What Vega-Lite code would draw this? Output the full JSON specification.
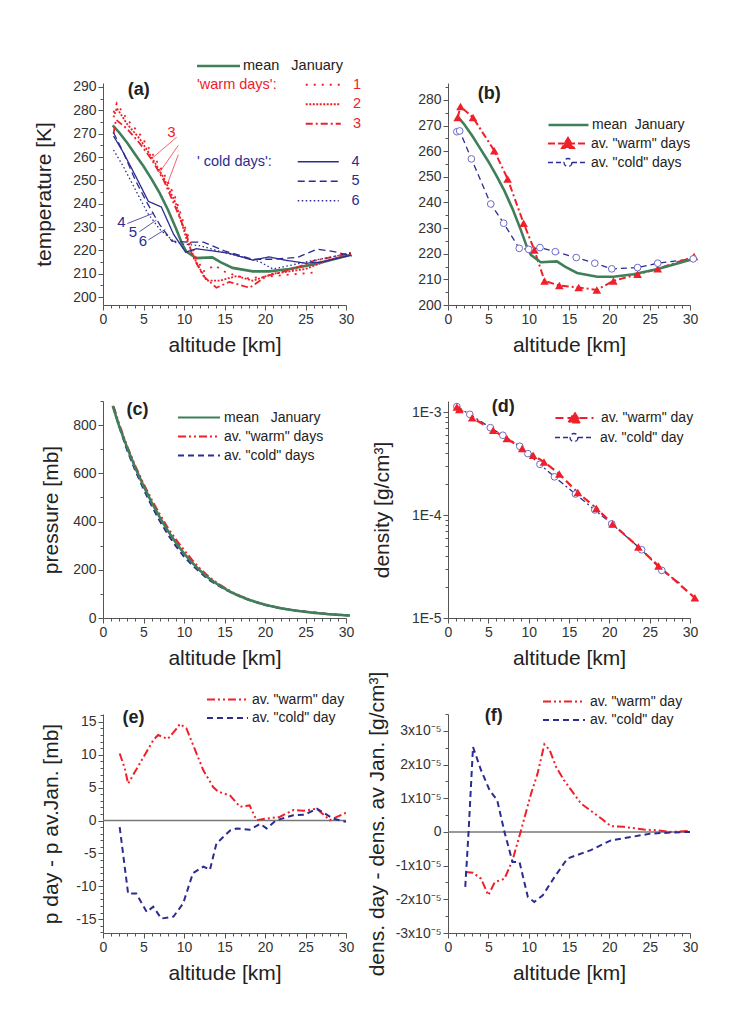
{
  "$schema": "https://vega.github.io/schema/vega-lite/v6.json",
  "background": "white",
  "padding": {"left": 33, "top": 58, "right": 5, "bottom": 5},
  "datasets": {
    "tB": [
      {"s": "mean", "h": 1.2, "v": 273.5}, {"s": "mean", "h": 2, "v": 270.5}, {"s": "mean", "h": 3, "v": 266}, {"s": "mean", "h": 4, "v": 261}, {"s": "mean", "h": 5, "v": 256}, {"s": "mean", "h": 6, "v": 250.5}, {"s": "mean", "h": 7, "v": 244.5}, {"s": "mean", "h": 8, "v": 237.5}, {"s": "mean", "h": 9, "v": 229.5}, {"s": "mean", "h": 9.8, "v": 222.5}, {"s": "mean", "h": 10.3, "v": 219.5}, {"s": "mean", "h": 11.5, "v": 216.7}, {"s": "mean", "h": 13.5, "v": 217}, {"s": "mean", "h": 14.5, "v": 215}, {"s": "mean", "h": 16, "v": 212.5}, {"s": "mean", "h": 18.5, "v": 211}, {"s": "mean", "h": 20.5, "v": 211}, {"s": "mean", "h": 23, "v": 212}, {"s": "mean", "h": 26, "v": 214}, {"s": "mean", "h": 28, "v": 215.8}, {"s": "mean", "h": 30.5, "v": 218},
      {"s": "warm", "h": 1.2, "v": 273.1}, {"s": "warm", "h": 1.55, "v": 277.4}, {"s": "warm", "h": 3.1, "v": 273.1}, {"s": "warm", "h": 5.74, "v": 260.2}, {"s": "warm", "h": 7.39, "v": 249.2}, {"s": "warm", "h": 9.37, "v": 231.9}, {"s": "warm", "h": 10.7, "v": 221.5}, {"s": "warm", "h": 11.97, "v": 209.4}, {"s": "warm", "h": 13.8, "v": 207.6}, {"s": "warm", "h": 16.2, "v": 206.8}, {"s": "warm", "h": 18.45, "v": 205.9}, {"s": "warm", "h": 20.5, "v": 209.4}, {"s": "warm", "h": 23.5, "v": 212.0}, {"s": "warm", "h": 26.0, "v": 214.1}, {"s": "warm", "h": 30.5, "v": 218.9},
      {"s": "cold", "h": 1.1, "v": 267.6}, {"s": "cold", "h": 1.45, "v": 267.9}, {"s": "cold", "h": 2.9, "v": 257.0}, {"s": "cold", "h": 5.3, "v": 239.4}, {"s": "cold", "h": 6.9, "v": 231.9}, {"s": "cold", "h": 8.83, "v": 222.1}, {"s": "cold", "h": 10.0, "v": 221.7}, {"s": "cold", "h": 11.4, "v": 222.4}, {"s": "cold", "h": 13.3, "v": 220.8}, {"s": "cold", "h": 15.9, "v": 218.5}, {"s": "cold", "h": 18.2, "v": 216.3}, {"s": "cold", "h": 20.3, "v": 214.1}, {"s": "cold", "h": 23.5, "v": 214.6}, {"s": "cold", "h": 26.0, "v": 216.3}, {"s": "cold", "h": 30.4, "v": 218.0}
    ],
    "aW": [
      {"s": "1", "h": 1.3, "v": 279}, {"s": "1", "h": 1.7, "v": 283}, {"s": "1", "h": 3, "v": 276}, {"s": "1", "h": 4.5, "v": 270}, {"s": "1", "h": 6, "v": 262}, {"s": "1", "h": 7.5, "v": 253}, {"s": "1", "h": 9, "v": 242}, {"s": "1", "h": 10.3, "v": 228}, {"s": "1", "h": 11.5, "v": 217}, {"s": "1", "h": 12.4, "v": 211}, {"s": "1", "h": 13.8, "v": 213.5}, {"s": "1", "h": 15.2, "v": 210.5}, {"s": "1", "h": 17.7, "v": 208}, {"s": "1", "h": 21, "v": 209}, {"s": "1", "h": 26, "v": 210.5},
      {"s": "2", "h": 1.3, "v": 277}, {"s": "2", "h": 1.7, "v": 281}, {"s": "2", "h": 3, "v": 274}, {"s": "2", "h": 4.5, "v": 268}, {"s": "2", "h": 6, "v": 260}, {"s": "2", "h": 7.5, "v": 251}, {"s": "2", "h": 9, "v": 240}, {"s": "2", "h": 10.3, "v": 225}, {"s": "2", "h": 11.5, "v": 215}, {"s": "2", "h": 12.8, "v": 207}, {"s": "2", "h": 14.4, "v": 207}, {"s": "2", "h": 16.5, "v": 209}, {"s": "2", "h": 18.5, "v": 207}, {"s": "2", "h": 21, "v": 210}, {"s": "2", "h": 25, "v": 212}, {"s": "2", "h": 28, "v": 216}, {"s": "2", "h": 30.7, "v": 218.5},
      {"s": "3", "h": 1.3, "v": 270}, {"s": "3", "h": 1.6, "v": 276}, {"s": "3", "h": 3, "v": 272}, {"s": "3", "h": 4.5, "v": 266}, {"s": "3", "h": 6, "v": 259}, {"s": "3", "h": 7.5, "v": 250}, {"s": "3", "h": 9, "v": 238}, {"s": "3", "h": 10.3, "v": 227}, {"s": "3", "h": 11, "v": 218}, {"s": "3", "h": 12.4, "v": 209}, {"s": "3", "h": 14, "v": 204}, {"s": "3", "h": 15.6, "v": 206.5}, {"s": "3", "h": 18.1, "v": 204}, {"s": "3", "h": 20.2, "v": 209}, {"s": "3", "h": 23.5, "v": 212}, {"s": "3", "h": 26, "v": 215.5}, {"s": "3", "h": 30.7, "v": 219}
    ],
    "aC": [
      {"s": "4", "h": 1.3, "v": 269}, {"s": "4", "h": 2.5, "v": 262}, {"s": "4", "h": 4, "v": 252}, {"s": "4", "h": 5.6, "v": 241}, {"s": "4", "h": 7.2, "v": 238.6}, {"s": "4", "h": 8.7, "v": 227}, {"s": "4", "h": 10.2, "v": 219.2}, {"s": "4", "h": 11.5, "v": 220.7}, {"s": "4", "h": 13.5, "v": 219.8}, {"s": "4", "h": 15.5, "v": 218.8}, {"s": "4", "h": 18.5, "v": 215.8}, {"s": "4", "h": 20.5, "v": 217.2}, {"s": "4", "h": 22.5, "v": 215.8}, {"s": "4", "h": 25, "v": 214.5}, {"s": "4", "h": 27, "v": 215}, {"s": "4", "h": 30.7, "v": 218},
      {"s": "5", "h": 1.3, "v": 270.5}, {"s": "5", "h": 2.5, "v": 262}, {"s": "5", "h": 4, "v": 250}, {"s": "5", "h": 5.5, "v": 240}, {"s": "5", "h": 7, "v": 231}, {"s": "5", "h": 8.5, "v": 224}, {"s": "5", "h": 10.5, "v": 223.5}, {"s": "5", "h": 12.4, "v": 223.5}, {"s": "5", "h": 15, "v": 219.8}, {"s": "5", "h": 18.5, "v": 216.2}, {"s": "5", "h": 21, "v": 216.2}, {"s": "5", "h": 24, "v": 217}, {"s": "5", "h": 26.4, "v": 220.5}, {"s": "5", "h": 28.5, "v": 219.5}, {"s": "5", "h": 30.7, "v": 217.5},
      {"s": "6", "h": 1.3, "v": 263}, {"s": "6", "h": 2.5, "v": 256}, {"s": "6", "h": 4, "v": 246}, {"s": "6", "h": 5.5, "v": 236}, {"s": "6", "h": 7, "v": 229}, {"s": "6", "h": 8.9, "v": 223.4}, {"s": "6", "h": 9.9, "v": 222.7}, {"s": "6", "h": 12, "v": 222}, {"s": "6", "h": 15, "v": 219}, {"s": "6", "h": 17.5, "v": 217}, {"s": "6", "h": 19.4, "v": 215}, {"s": "6", "h": 21, "v": 212}, {"s": "6", "h": 23, "v": 213.5}, {"s": "6", "h": 25, "v": 215}, {"s": "6", "h": 28, "v": 217}, {"s": "6", "h": 30.7, "v": 219}
    ],
    "aArrR": [
      {"h": 9.1, "v": 268.5, "h2": 5.9, "v2": 259}, {"h": 9.3, "v": 265, "h2": 6.9, "v2": 253}, {"h": 9.3, "v": 261, "h2": 7.9, "v2": 248}
    ],
    "aArrB": [
      {"h": 3.0, "v": 231.5, "h2": 6.3, "v2": 236}, {"h": 4.5, "v": 228, "h2": 6.6, "v2": 233}, {"h": 5.6, "v": 224.5, "h2": 7.7, "v2": 229}
    ],
    "aLabR": [{"t": "3", "h": 8.45, "v": 268.5}],
    "aLabB": [{"t": "4", "h": 2.27, "v": 229.9}, {"t": "5", "h": 3.7, "v": 225.6}, {"t": "6", "h": 4.94, "v": 221.7}],
    "pC": [
      {"s": "mean", "h": 1.2, "v": 880}, {"s": "mean", "h": 2, "v": 795}, {"s": "mean", "h": 3, "v": 705}, {"s": "mean", "h": 4, "v": 622}, {"s": "mean", "h": 5, "v": 548}, {"s": "mean", "h": 6, "v": 480}, {"s": "mean", "h": 7, "v": 418}, {"s": "mean", "h": 8, "v": 362}, {"s": "mean", "h": 9, "v": 312}, {"s": "mean", "h": 10, "v": 268}, {"s": "mean", "h": 11, "v": 230}, {"s": "mean", "h": 12, "v": 196}, {"s": "mean", "h": 13, "v": 167}, {"s": "mean", "h": 14, "v": 143}, {"s": "mean", "h": 15, "v": 122}, {"s": "mean", "h": 16, "v": 104}, {"s": "mean", "h": 17, "v": 89}, {"s": "mean", "h": 18, "v": 76}, {"s": "mean", "h": 19, "v": 65}, {"s": "mean", "h": 20, "v": 55}, {"s": "mean", "h": 22, "v": 40}, {"s": "mean", "h": 24, "v": 29.5}, {"s": "mean", "h": 26, "v": 21.5}, {"s": "mean", "h": 28, "v": 15.5}, {"s": "mean", "h": 30.5, "v": 10},
      {"s": "warm", "h": 1.3, "v": 878}, {"s": "warm", "h": 2, "v": 805}, {"s": "warm", "h": 3, "v": 711}, {"s": "warm", "h": 4, "v": 630}, {"s": "warm", "h": 5, "v": 557}, {"s": "warm", "h": 6, "v": 492}, {"s": "warm", "h": 7, "v": 431}, {"s": "warm", "h": 8, "v": 374}, {"s": "warm", "h": 9, "v": 326}, {"s": "warm", "h": 10, "v": 282}, {"s": "warm", "h": 11, "v": 241}, {"s": "warm", "h": 12, "v": 204}, {"s": "warm", "h": 13, "v": 173}, {"s": "warm", "h": 14, "v": 147}, {"s": "warm", "h": 15, "v": 126}, {"s": "warm", "h": 16, "v": 106}, {"s": "warm", "h": 17, "v": 91}, {"s": "warm", "h": 18, "v": 78}, {"s": "warm", "h": 19, "v": 65.5}, {"s": "warm", "h": 20, "v": 55.3}, {"s": "warm", "h": 22, "v": 40.5}, {"s": "warm", "h": 24, "v": 30.5}, {"s": "warm", "h": 26, "v": 23}, {"s": "warm", "h": 28, "v": 15.5}, {"s": "warm", "h": 30.5, "v": 10.5},
      {"s": "cold", "h": 1.3, "v": 872}, {"s": "cold", "h": 2, "v": 794}, {"s": "cold", "h": 3, "v": 694}, {"s": "cold", "h": 4, "v": 611}, {"s": "cold", "h": 5, "v": 535}, {"s": "cold", "h": 6, "v": 466}, {"s": "cold", "h": 7, "v": 403}, {"s": "cold", "h": 8, "v": 347}, {"s": "cold", "h": 9, "v": 298}, {"s": "cold", "h": 10, "v": 255}, {"s": "cold", "h": 11, "v": 220}, {"s": "cold", "h": 12, "v": 189}, {"s": "cold", "h": 13, "v": 160}, {"s": "cold", "h": 14, "v": 139}, {"s": "cold", "h": 15, "v": 120}, {"s": "cold", "h": 16, "v": 103}, {"s": "cold", "h": 17, "v": 88}, {"s": "cold", "h": 18, "v": 74.6}, {"s": "cold", "h": 19, "v": 64.5}, {"s": "cold", "h": 20, "v": 54}, {"s": "cold", "h": 22, "v": 40}, {"s": "cold", "h": 24, "v": 30}, {"s": "cold", "h": 26, "v": 22.5}, {"s": "cold", "h": 28, "v": 15.5}, {"s": "cold", "h": 30.5, "v": 10}
    ],
    "dD": [
      {"s": "warm", "h": 1.1, "v": 0.001118}, {"s": "warm", "h": 1.4, "v": 0.00106}, {"s": "warm", "h": 3.0, "v": 0.00088}, {"s": "warm", "h": 5.6, "v": 0.000665}, {"s": "warm", "h": 7.3, "v": 0.000552}, {"s": "warm", "h": 9.2, "v": 0.000442}, {"s": "warm", "h": 10.55, "v": 0.000381}, {"s": "warm", "h": 11.9, "v": 0.000328}, {"s": "warm", "h": 13.8, "v": 0.00025}, {"s": "warm", "h": 16.1, "v": 0.000165}, {"s": "warm", "h": 18.4, "v": 0.000116}, {"s": "warm", "h": 20.4, "v": 0.000082}, {"s": "warm", "h": 23.6, "v": 0.000049}, {"s": "warm", "h": 26.1, "v": 0.000032}, {"s": "warm", "h": 30.6, "v": 0.0000157},
      {"s": "cold", "h": 1.1, "v": 0.00113}, {"s": "cold", "h": 2.7, "v": 0.00095}, {"s": "cold", "h": 5.25, "v": 0.000705}, {"s": "cold", "h": 6.8, "v": 0.000595}, {"s": "cold", "h": 8.9, "v": 0.000465}, {"s": "cold", "h": 9.9, "v": 0.000395}, {"s": "cold", "h": 11.4, "v": 0.000311}, {"s": "cold", "h": 13.2, "v": 0.000235}, {"s": "cold", "h": 15.8, "v": 0.00016}, {"s": "cold", "h": 18.2, "v": 0.000112}, {"s": "cold", "h": 20.3, "v": 0.000082}, {"s": "cold", "h": 24.0, "v": 0.000046}, {"s": "cold", "h": 26.5, "v": 0.000029}, {"s": "cold", "h": 28.7, "v": 0.0000218}
    ],
    "eE": [
      {"s": "warm", "h": 2.06, "v": 10.2}, {"s": "warm", "h": 2.7, "v": 7.9}, {"s": "warm", "h": 3.1, "v": 5.6}, {"s": "warm", "h": 4.5, "v": 8.6}, {"s": "warm", "h": 6.2, "v": 12.2}, {"s": "warm", "h": 6.8, "v": 13.0}, {"s": "warm", "h": 8.0, "v": 12.4}, {"s": "warm", "h": 9.1, "v": 14.0}, {"s": "warm", "h": 9.5, "v": 14.7}, {"s": "warm", "h": 10.3, "v": 14.0}, {"s": "warm", "h": 12.4, "v": 7.6}, {"s": "warm", "h": 13.6, "v": 5.1}, {"s": "warm", "h": 14.2, "v": 4.4}, {"s": "warm", "h": 15.7, "v": 3.8}, {"s": "warm", "h": 16.9, "v": 2.1}, {"s": "warm", "h": 18.1, "v": 2.3}, {"s": "warm", "h": 18.95, "v": 0.05}, {"s": "warm", "h": 20.2, "v": 0.3}, {"s": "warm", "h": 21.8, "v": 0.55}, {"s": "warm", "h": 23.5, "v": 1.6}, {"s": "warm", "h": 24.7, "v": 1.5}, {"s": "warm", "h": 26.4, "v": 1.8}, {"s": "warm", "h": 28, "v": 0.05}, {"s": "warm", "h": 30, "v": 1.2},
      {"s": "cold", "h": 2.06, "v": -1.0}, {"s": "cold", "h": 3.1, "v": -11.1}, {"s": "cold", "h": 4.1, "v": -11.1}, {"s": "cold", "h": 5.4, "v": -13.9}, {"s": "cold", "h": 6.2, "v": -13.1}, {"s": "cold", "h": 7.2, "v": -14.9}, {"s": "cold", "h": 8.7, "v": -14.6}, {"s": "cold", "h": 9.9, "v": -12.6}, {"s": "cold", "h": 11.1, "v": -8.0}, {"s": "cold", "h": 12.4, "v": -7.0}, {"s": "cold", "h": 13.2, "v": -7.5}, {"s": "cold", "h": 14.0, "v": -3.5}, {"s": "cold", "h": 15.7, "v": -1.5}, {"s": "cold", "h": 16.5, "v": -1.2}, {"s": "cold", "h": 18.1, "v": -1.4}, {"s": "cold", "h": 19.4, "v": -0.5}, {"s": "cold", "h": 20.2, "v": -1.2}, {"s": "cold", "h": 21.4, "v": 0.05}, {"s": "cold", "h": 23.5, "v": 0.8}, {"s": "cold", "h": 24.9, "v": 0.9}, {"s": "cold", "h": 26.4, "v": 1.8}, {"s": "cold", "h": 28.4, "v": 0.3}, {"s": "cold", "h": 30, "v": -0.2}
    ],
    "fF": [
      {"s": "warm", "h": 2.14, "v": -0.0000119}, {"s": "warm", "h": 3.1, "v": -0.0000121}, {"s": "warm", "h": 4.1, "v": -0.0000139}, {"s": "warm", "h": 5.0, "v": -0.0000188}, {"s": "warm", "h": 5.8, "v": -0.0000149}, {"s": "warm", "h": 7.0, "v": -0.0000139}, {"s": "warm", "h": 8.0, "v": -0.0000084}, {"s": "warm", "h": 9.0, "v": 0}, {"s": "warm", "h": 10.3, "v": 0.0000114}, {"s": "warm", "h": 11.1, "v": 0.0000173}, {"s": "warm", "h": 11.95, "v": 0.000026}, {"s": "warm", "h": 12.6, "v": 0.0000243}, {"s": "warm", "h": 13.4, "v": 0.0000193}, {"s": "warm", "h": 14.4, "v": 0.0000153}, {"s": "warm", "h": 16.5, "v": 0.0000084}, {"s": "warm", "h": 19.0, "v": 0.000004}, {"s": "warm", "h": 20.2, "v": 0.0000017}, {"s": "warm", "h": 21.8, "v": 0.0000015}, {"s": "warm", "h": 24.3, "v": 0.0000007}, {"s": "warm", "h": 25.96, "v": 0.0000005}, {"s": "warm", "h": 27.6, "v": 0}, {"s": "warm", "h": 30, "v": 0.0000003},
      {"s": "cold", "h": 2.14, "v": -0.0000163}, {"s": "cold", "h": 2.55, "v": 0}, {"s": "cold", "h": 3.1, "v": 0.0000252}, {"s": "cold", "h": 4.1, "v": 0.0000183}, {"s": "cold", "h": 5.15, "v": 0.0000124}, {"s": "cold", "h": 6.1, "v": 0.0000094}, {"s": "cold", "h": 7.0, "v": 0}, {"s": "cold", "h": 8.0, "v": -0.0000089}, {"s": "cold", "h": 8.86, "v": -0.0000089}, {"s": "cold", "h": 9.9, "v": -0.0000193}, {"s": "cold", "h": 10.7, "v": -0.0000208}, {"s": "cold", "h": 11.75, "v": -0.0000188}, {"s": "cold", "h": 13.2, "v": -0.0000134}, {"s": "cold", "h": 14.8, "v": -0.0000079}, {"s": "cold", "h": 17.7, "v": -0.0000054}, {"s": "cold", "h": 20.2, "v": -0.0000025}, {"s": "cold", "h": 22.7, "v": -0.0000015}, {"s": "cold", "h": 25.1, "v": -0.0000005}, {"s": "cold", "h": 27.6, "v": -0.0000002}, {"s": "cold", "h": 30, "v": 0}
    ]
  },
  "concat": [
    {
      "width": 243, "height": 222,
      "layer": [
        {
          "layer": [
            {
              "data": {"name": "tB"},
              "transform": [{"filter": "datum.s === 'mean'"}],
              "mark": {"type": "line", "strokeWidth": 2.6},
              "encoding": {
                "x": {"field": "h", "type": "quantitative", "scale": {"domain": [0, 30], "nice": false, "zero": false},
                  "axis": {"title": "altitude [km]", "orient": "bottom", "values": [0,5,10,15,20,25,30], "format": "d", "tickCount": 100, "tickSize": 5, "titlePadding": 8}},
                "y": {"field": "v", "type": "quantitative", "scale": {"domain": [196.6, 291.7], "nice": false, "zero": false},
                  "axis": {"title": "temperature [K]", "orient": "left", "values": [200,210,220,230,240,250,260,270,280,290], "format": "d", "tickCount": 100, "tickSize": 5, "titlePadding": 18}},
                "color": {"field": "s", "type": "nominal", "scale": {"domain": ["mean"], "range": ["#3f7f5a"]},
                  "legend": {"title": null, "orient": "none", "legendX": 108, "legendY": -24.5, "symbolType": "M-3.58,0L3.58,0", "symbolSize": 144, "symbolStrokeWidth": 2.6, "labelOffset": 17, "labelFontSize": 14.5, "labelExpr": "'mean\u00a0\u00a0\u00a0January'"}}
              }
            },
            {
              "data": {"name": "aW"},
              "mark": {"type": "line", "color": "#f0202a", "strokeWidth": 1.8},
              "encoding": {
                "x": {"field": "h", "type": "quantitative"},
                "y": {"field": "v", "type": "quantitative"},
                "strokeDash": {"field": "s", "type": "nominal", "scale": {"domain": ["1", "2", "3"], "range": [[2, 6], [2, 1.5], [7, 3, 2, 3]]},
                  "legend": {"title": "'warm days':", "titleOrient": "left", "titleAnchor": "start", "titleColor": "#f0202a", "titleFontSize": 14.5, "titleFontWeight": "normal", "titlePadding": 39, "labelColor": "#f0202a", "labelFontSize": 14.5, "labelOffset": 22.5, "orient": "none", "legendX": 94, "legendY": -5.5, "symbolType": "M-2.92,0L2.92,0", "symbolSize": 144, "symbolStrokeWidth": 1.8, "symbolStrokeColor": "#f0202a", "rowPadding": 4.5}}
              }
            },
            {
              "data": {"name": "aC"},
              "mark": {"type": "line", "color": "#2c2c92", "strokeWidth": 1.3},
              "encoding": {
                "x": {"field": "h", "type": "quantitative"},
                "y": {"field": "v", "type": "quantitative"},
                "strokeDash": {"field": "s", "type": "nominal", "scale": {"domain": ["4", "5", "6"], "range": [[1, 0], [7, 4], [1.5, 2.5]]},
                  "legend": {"title": "' cold days':", "titleOrient": "left", "titleAnchor": "start", "titleColor": "#2c2c92", "titleFontSize": 14.5, "titleFontWeight": "normal", "titlePadding": 39, "labelColor": "#2c2c92", "labelFontSize": 14.5, "labelOffset": 26, "orient": "none", "legendX": 94, "legendY": 71.5, "symbolType": "M-3.42,0L3.42,0", "symbolSize": 144, "symbolStrokeWidth": 1.3, "symbolStrokeColor": "#2c2c92", "rowPadding": 4.5}}
              }
            },
            {
              "data": {"name": "aArrR"},
              "mark": {"type": "rule", "color": "#f0202a", "strokeWidth": 0.7},
              "encoding": {
                "x": {"field": "h", "type": "quantitative"}, "y": {"field": "v", "type": "quantitative"},
                "x2": {"field": "h2"}, "y2": {"field": "v2"}
              }
            },
            {
              "data": {"name": "aArrB"},
              "mark": {"type": "rule", "color": "#2c2c92", "strokeWidth": 0.8},
              "encoding": {
                "x": {"field": "h", "type": "quantitative"}, "y": {"field": "v", "type": "quantitative"},
                "x2": {"field": "h2"}, "y2": {"field": "v2"}
              }
            },
            {
              "data": {"name": "aLabR"},
              "mark": {"type": "text", "color": "#f0202a", "fontSize": 15, "baseline": "alphabetic"},
              "encoding": {"x": {"field": "h", "type": "quantitative"}, "y": {"field": "v", "type": "quantitative"}, "text": {"field": "t"}}
            },
            {
              "data": {"name": "aLabB"},
              "mark": {"type": "text", "color": "#2c2c92", "fontSize": 15, "baseline": "alphabetic"},
              "encoding": {"x": {"field": "h", "type": "quantitative"}, "y": {"field": "v", "type": "quantitative"}, "text": {"field": "t"}}
            },
            {
              "data": {"values": [{}]},
              "mark": {"type": "text", "text": "(a)", "fontWeight": "bold", "fontSize": 18, "baseline": "alphabetic", "color": "#222"},
              "encoding": {"x": {"datum": 4.4, "type": "quantitative"}, "y": {"datum": 286.5, "type": "quantitative"}}
            }
          ],
          "resolve": {"scale": {"strokeDash": "independent"}, "legend": {"strokeDash": "independent"}}
        },
        {
          "data": {"values": [{}]},
          "mark": {"type": "point", "opacity": 0},
          "encoding": {
            "x": {"datum": 0, "type": "quantitative", "scale": {"domain": [0, 30], "nice": false, "zero": false},
              "axis": {"orient": "bottom", "title": null, "labels": false, "domain": false, "tickCount": 100, "tickSize": 3, "values": [1,2,3,4,6,7,8,9,11,12,13,14,16,17,18,19,21,22,23,24,26,27,28,29]}},
            "y": {"datum": 250, "type": "quantitative", "scale": {"domain": [196.6, 291.7], "nice": false, "zero": false},
              "axis": {"orient": "left", "title": null, "labels": false, "domain": false, "tickCount": 100, "tickSize": 3, "values": [205,215,225,235,245,255,265,275,285]}}
          }
        }
      ],
      "resolve": {"scale": {"x": "independent", "y": "independent"}, "axis": {"x": "independent", "y": "independent"}}
    },
    {
      "width": 242, "height": 222,
      "layer": [
        {
          "layer": [
            {
              "data": {"name": "tB"},
              "transform": [{"filter": "datum.s === 'cold'"}],
              "mark": {"type": "line", "strokeWidth": 1.3, "strokeDash": [6, 4]},
              "encoding": {
                "x": {"field": "h", "type": "quantitative", "scale": {"domain": [0, 30], "nice": false, "zero": false},
                  "axis": {"title": "altitude [km]", "orient": "bottom", "values": [0,5,10,15,20,25,30], "format": "d", "tickCount": 100, "tickSize": 5, "titlePadding": 8}},
                "y": {"field": "v", "type": "quantitative", "scale": {"domain": [200, 286.6], "nice": false, "zero": false},
                  "axis": {"title": null, "orient": "left", "values": [200,210,220,230,240,250,260,270,280], "format": "d", "tickCount": 100, "tickSize": 5}},
                "color": {"field": "s", "type": "nominal", "scale": {"domain": ["cold"], "range": ["#2c2c92"]},
                  "legend": {"title": null, "orient": "none", "legendX": 113, "legendY": 72.5, "symbolType": "M-3.33,0L-0.67,0M0.67,0L3.33,0M0.67,0A0.67,0.67,0,1,1,-0.67,0A0.67,0.67,0,1,1,0.67,0", "symbolFillColor": "white", "symbolStrokeColor": "#2c2c92", "symbolDash": [5, 3], "symbolSize": 144, "symbolStrokeWidth": 1.3, "labelOffset": 16, "labelFontSize": 14, "labelExpr": "'av. \"cold\" days'"}}
              }
            },
            {
              "data": {"name": "tB"},
              "transform": [{"filter": "datum.s === 'warm'"}],
              "mark": {"type": "line", "strokeWidth": 2, "strokeDash": [7, 3, 2, 3]},
              "encoding": {
                "x": {"field": "h", "type": "quantitative"},
                "y": {"field": "v", "type": "quantitative"},
                "color": {"field": "s", "type": "nominal", "scale": {"domain": ["warm"], "range": ["#f0202a"]},
                  "legend": {"title": null, "orient": "none", "legendX": 113, "legendY": 53.5, "symbolType": "M-3.33,0L3.33,0M0,-0.92L1,0.75L-1,0.75Z", "symbolFillColor": "#f0202a", "symbolStrokeColor": "#f0202a", "symbolDash": [7, 3], "symbolSize": 144, "symbolStrokeWidth": 2, "labelOffset": 16, "labelFontSize": 14, "labelExpr": "'av. \"warm\" days'"}}
              }
            },
            {
              "data": {"name": "tB"},
              "transform": [{"filter": "datum.s === 'mean'"}],
              "mark": {"type": "line", "strokeWidth": 2.6},
              "encoding": {
                "x": {"field": "h", "type": "quantitative"},
                "y": {"field": "v", "type": "quantitative"},
                "color": {"field": "s", "type": "nominal", "scale": {"domain": ["mean"], "range": ["#3f7f5a"]},
                  "legend": {"title": null, "orient": "none", "legendX": 113, "legendY": 34.5, "symbolType": "M-3.33,0L3.33,0", "symbolSize": 144, "symbolStrokeWidth": 2.6, "labelOffset": 16, "labelFontSize": 14, "labelExpr": "'mean\u00a0\u00a0January'"}}
              }
            },
            {
              "data": {"name": "tB"},
              "transform": [{"filter": "datum.s === 'warm'"}],
              "mark": {"type": "point", "shape": "triangle-up", "filled": true, "color": "#f0202a", "size": 75, "opacity": 1},
              "encoding": {"x": {"field": "h", "type": "quantitative"}, "y": {"field": "v", "type": "quantitative"}}
            },
            {
              "data": {"name": "tB"},
              "transform": [{"filter": "datum.s === 'cold'"}],
              "mark": {"type": "point", "shape": "circle", "filled": true, "fill": "white", "stroke": "#6d6dc4", "strokeWidth": 1, "size": 45, "opacity": 1},
              "encoding": {"x": {"field": "h", "type": "quantitative"}, "y": {"field": "v", "type": "quantitative"}}
            },
            {
              "data": {"values": [{}]},
              "mark": {"type": "text", "text": "(b)", "fontWeight": "bold", "fontSize": 18, "baseline": "alphabetic", "color": "#222"},
              "encoding": {"x": {"datum": 5.1, "type": "quantitative"}, "y": {"datum": 280.4, "type": "quantitative"}}
            }
          ],
          "resolve": {"scale": {"color": "independent"}, "legend": {"color": "independent"}}
        },
        {
          "data": {"values": [{}]},
          "mark": {"type": "point", "opacity": 0},
          "encoding": {
            "x": {"datum": 0, "type": "quantitative", "scale": {"domain": [0, 30], "nice": false, "zero": false},
              "axis": {"orient": "bottom", "title": null, "labels": false, "domain": false, "tickCount": 100, "tickSize": 3, "values": [1,2,3,4,6,7,8,9,11,12,13,14,16,17,18,19,21,22,23,24,26,27,28,29]}},
            "y": {"datum": 250, "type": "quantitative", "scale": {"domain": [200, 286.6], "nice": false, "zero": false},
              "axis": {"orient": "left", "title": null, "labels": false, "domain": false, "tickCount": 100, "tickSize": 3, "values": [205,215,225,235,245,255,265,275,285]}}
          }
        }
      ],
      "resolve": {"scale": {"x": "independent", "y": "independent"}, "axis": {"x": "independent", "y": "independent"}}
    },
    {
      "width": 243, "height": 217,
      "layer": [
        {
          "layer": [
            {
              "data": {"name": "pC"},
              "transform": [{"filter": "datum.s !== 'mean'"}],
              "mark": {"type": "line", "strokeWidth": 2},
              "encoding": {
                "x": {"field": "h", "type": "quantitative", "scale": {"domain": [0, 30], "nice": false, "zero": false},
                  "axis": {"title": "altitude [km]", "orient": "bottom", "values": [0,5,10,15,20,25,30], "format": "d", "tickCount": 100, "tickSize": 5, "titlePadding": 8}},
                "y": {"field": "v", "type": "quantitative", "scale": {"domain": [0, 900], "nice": false, "zero": false},
                  "axis": {"title": "pressure [mb]", "orient": "left", "values": [0,200,400,600,800], "format": "d", "tickCount": 100, "tickSize": 5, "titlePadding": 11}},
                "color": {"field": "s", "type": "nominal", "scale": {"domain": ["mean", "warm", "cold"], "range": ["#3f7f5a", "#f0202a", "#2c2c92"]},
                  "legend": {"title": null, "orient": "none", "legendX": 89, "legendY": 9.5, "symbolType": "M-3.5,0L3.5,0", "symbolSize": 144, "symbolStrokeWidth": 2, "labelOffset": 18, "rowPadding": 5, "labelFontSize": 14,
                    "labelExpr": "datum.value === 'mean' ? 'mean\u00a0\u00a0\u00a0January' : datum.value === 'warm' ? 'av. \"warm\" days' : 'av. \"cold\" days'"}},
                "strokeDash": {"field": "s", "type": "nominal", "scale": {"domain": ["mean", "warm", "cold"], "range": [[1, 0], [8, 3, 2, 3, 2, 3], [6, 4]]},
                  "legend": {"title": null, "orient": "none", "legendX": 89, "legendY": 9.5, "symbolType": "M-3.5,0L3.5,0", "symbolSize": 144, "symbolStrokeWidth": 2, "labelOffset": 18, "rowPadding": 5, "labelFontSize": 14,
                    "labelExpr": "datum.value === 'mean' ? 'mean\u00a0\u00a0\u00a0January' : datum.value === 'warm' ? 'av. \"warm\" days' : 'av. \"cold\" days'"}}
              }
            },
            {
              "data": {"name": "pC"},
              "transform": [{"filter": "datum.s === 'mean'"}],
              "mark": {"type": "line", "strokeWidth": 2.6},
              "encoding": {
                "x": {"field": "h", "type": "quantitative"},
                "y": {"field": "v", "type": "quantitative"},
                "color": {"field": "s", "type": "nominal"},
                "strokeDash": {"field": "s", "type": "nominal"}
              }
            },
            {
              "data": {"values": [{}]},
              "mark": {"type": "text", "text": "(c)", "fontWeight": "bold", "fontSize": 18, "baseline": "alphabetic", "color": "#222"},
              "encoding": {"x": {"datum": 4.26, "type": "quantitative"}, "y": {"datum": 841, "type": "quantitative"}}
            }
          ]
        },
        {
          "data": {"values": [{}]},
          "mark": {"type": "point", "opacity": 0},
          "encoding": {
            "x": {"datum": 0, "type": "quantitative", "scale": {"domain": [0, 30], "nice": false, "zero": false},
              "axis": {"orient": "bottom", "title": null, "labels": false, "domain": false, "tickCount": 100, "tickSize": 3, "values": [1,2,3,4,6,7,8,9,11,12,13,14,16,17,18,19,21,22,23,24,26,27,28,29]}},
            "y": {"datum": 300, "type": "quantitative", "scale": {"domain": [0, 900], "nice": false, "zero": false},
              "axis": {"orient": "left", "title": null, "labels": false, "domain": false, "tickCount": 100, "tickSize": 3, "values": [100,300,500,700,900]}}
          }
        }
      ],
      "resolve": {"scale": {"x": "independent", "y": "independent"}, "axis": {"x": "independent", "y": "independent"}}
    },
    {
      "width": 242, "height": 217,
      "layer": [
        {
          "layer": [
            {
              "data": {"name": "dD"},
              "transform": [{"filter": "datum.s === 'cold'"}],
              "mark": {"type": "line", "strokeWidth": 1.3, "strokeDash": [6, 3, 2, 3]},
              "encoding": {
                "x": {"field": "h", "type": "quantitative", "scale": {"domain": [0, 30], "nice": false, "zero": false},
                  "axis": {"title": "altitude [km]", "orient": "bottom", "values": [0,5,10,15,20,25,30], "format": "d", "tickCount": 100, "tickSize": 5, "titlePadding": 8}},
                "y": {"field": "v", "type": "quantitative", "scale": {"type": "log", "domain": [0.00001, 0.00128], "nice": false},
                  "axis": {"title": "density [g/cm³]", "orient": "left", "values": [0.00001, 0.0001, 0.001], "tickCount": 100, "labelExpr": "datum.value >= 0.0009 ? '1E-3' : datum.value >= 0.00009 ? '1E-4' : '1E-5'", "tickSize": 5, "titlePadding": 19}},
                "color": {"field": "s", "type": "nominal", "scale": {"domain": ["cold"], "range": ["#2c2c92"]},
                  "legend": {"title": null, "orient": "none", "legendX": 119, "legendY": 29.5, "symbolType": "M-3.17,0L-0.67,0M0.67,0L3.17,0M0.67,0A0.67,0.67,0,1,1,-0.67,0A0.67,0.67,0,1,1,0.67,0", "symbolFillColor": "white", "symbolStrokeColor": "#2c2c92", "symbolDash": [5, 3], "symbolSize": 144, "symbolStrokeWidth": 1.3, "labelOffset": 19, "labelFontSize": 14, "labelExpr": "'av. \"cold\" day'"}}
              }
            },
            {
              "data": {"name": "dD"},
              "transform": [{"filter": "datum.s === 'warm'"}],
              "mark": {"type": "line", "strokeWidth": 2.2, "strokeDash": [8, 4]},
              "encoding": {
                "x": {"field": "h", "type": "quantitative"},
                "y": {"field": "v", "type": "quantitative"},
                "color": {"field": "s", "type": "nominal", "scale": {"domain": ["warm"], "range": ["#f0202a"]},
                  "legend": {"title": null, "orient": "none", "legendX": 119, "legendY": 9.5, "symbolType": "M-3.17,0L3.17,0M0,-0.92L1,0.75L-1,0.75Z", "symbolFillColor": "#f0202a", "symbolStrokeColor": "#f0202a", "symbolDash": [8, 4], "symbolSize": 144, "symbolStrokeWidth": 2.2, "labelOffset": 19, "labelFontSize": 14, "labelExpr": "'av. \"warm\" day'"}}
              }
            },
            {
              "data": {"name": "dD"},
              "transform": [{"filter": "datum.s === 'cold' && datum.h < 28"}],
              "mark": {"type": "point", "shape": "circle", "filled": true, "fill": "white", "stroke": "#6d6dc4", "strokeWidth": 1, "size": 45, "opacity": 1},
              "encoding": {"x": {"field": "h", "type": "quantitative"}, "y": {"field": "v", "type": "quantitative"}}
            },
            {
              "data": {"name": "dD"},
              "transform": [{"filter": "datum.s === 'warm'"}],
              "mark": {"type": "point", "shape": "triangle-up", "filled": true, "color": "#f0202a", "size": 75, "opacity": 1},
              "encoding": {"x": {"field": "h", "type": "quantitative"}, "y": {"field": "v", "type": "quantitative"}}
            },
            {
              "data": {"values": [{}]},
              "mark": {"type": "text", "text": "(d)", "fontWeight": "bold", "fontSize": 18, "baseline": "alphabetic", "color": "#222"},
              "encoding": {"x": {"datum": 6.84, "type": "quantitative"}, "y": {"datum": 0.001, "type": "quantitative"}}
            }
          ],
          "resolve": {"scale": {"color": "independent"}, "legend": {"color": "independent"}}
        },
        {
          "data": {"values": [{}]},
          "mark": {"type": "point", "opacity": 0},
          "encoding": {
            "x": {"datum": 0, "type": "quantitative", "scale": {"domain": [0, 30], "nice": false, "zero": false},
              "axis": {"orient": "bottom", "title": null, "labels": false, "domain": false, "tickCount": 100, "tickSize": 3, "values": [1,2,3,4,6,7,8,9,11,12,13,14,16,17,18,19,21,22,23,24,26,27,28,29]}},
            "y": {"datum": 0.0001, "type": "quantitative", "scale": {"type": "log", "domain": [0.00001, 0.00128], "nice": false},
              "axis": {"orient": "left", "title": null, "labels": false, "domain": false, "tickCount": 100, "tickSize": 3, "values": [0.00002,0.00003,0.00004,0.00005,0.00006,0.00007,0.00008,0.00009,0.0002,0.0003,0.0004,0.0005,0.0006,0.0007,0.0008,0.0009]}}
          }
        }
      ],
      "resolve": {"scale": {"x": "independent", "y": "independent"}, "axis": {"x": "independent", "y": "independent"}}
    },
    {
      "width": 243, "height": 219,
      "layer": [
        {
          "layer": [
            {
              "data": {"values": [{}]},
              "mark": {"type": "rule", "color": "#777", "strokeWidth": 1.5},
              "encoding": {"y": {"datum": 0, "type": "quantitative"}}
            },
            {
              "data": {"name": "eE"},
              "mark": {"type": "line", "strokeWidth": 2},
              "encoding": {
                "x": {"field": "h", "type": "quantitative", "scale": {"domain": [0, 30], "nice": false, "zero": false},
                  "axis": {"title": "altitude [km]", "orient": "bottom", "values": [0,5,10,15,20,25,30], "format": "d", "tickCount": 100, "tickSize": 5, "titlePadding": 8}},
                "y": {"field": "v", "type": "quantitative", "scale": {"domain": [-17.1, 16.2], "nice": false, "zero": false},
                  "axis": {"title": "p day - p av.Jan. [mb]", "orient": "left", "values": [-15,-10,-5,0,5,10,15], "tickCount": 100, "labelExpr": "datum.value < 0 ? '-' + abs(datum.value) : '' + datum.value", "tickSize": 5, "titlePadding": 14}},
                "color": {"field": "s", "type": "nominal", "scale": {"domain": ["warm", "cold"], "range": ["#f0202a", "#2c2c92"]},
                  "legend": {"title": null, "orient": "none", "legendX": 117.5, "legendY": -21.5, "symbolType": "M-3.42,0L3.42,0", "symbolSize": 144, "symbolStrokeWidth": 2, "labelOffset": 17.5, "rowPadding": 4.5, "labelFontSize": 14,
                    "labelExpr": "datum.value === 'warm' ? 'av. \"warm\" day' : 'av. \"cold\" day'"}},
                "strokeDash": {"field": "s", "type": "nominal", "scale": {"domain": ["warm", "cold"], "range": [[8, 3, 2, 3, 2, 3], [6, 4]]},
                  "legend": {"title": null, "orient": "none", "legendX": 117.5, "legendY": -21.5, "symbolType": "M-3.42,0L3.42,0", "symbolSize": 144, "symbolStrokeWidth": 2, "labelOffset": 17.5, "rowPadding": 4.5, "labelFontSize": 14,
                    "labelExpr": "datum.value === 'warm' ? 'av. \"warm\" day' : 'av. \"cold\" day'"}}
              }
            },
            {
              "data": {"values": [{}]},
              "mark": {"type": "text", "text": "(e)", "fontWeight": "bold", "fontSize": 18, "baseline": "alphabetic", "color": "#222"},
              "encoding": {"x": {"datum": 3.77, "type": "quantitative"}, "y": {"datum": 14.9, "type": "quantitative"}}
            }
          ]
        },
        {
          "data": {"values": [{}]},
          "mark": {"type": "point", "opacity": 0},
          "encoding": {
            "x": {"datum": 0, "type": "quantitative", "scale": {"domain": [0, 30], "nice": false, "zero": false},
              "axis": {"orient": "bottom", "title": null, "labels": false, "domain": false, "tickCount": 100, "tickSize": 3, "values": [1,2,3,4,6,7,8,9,11,12,13,14,16,17,18,19,21,22,23,24,26,27,28,29]}},
            "y": {"datum": 0, "type": "quantitative", "scale": {"domain": [-17.1, 16.2], "nice": false, "zero": false},
              "axis": {"orient": "left", "title": null, "labels": false, "domain": false, "tickCount": 100, "tickSize": 3, "values": [-17,-16,-14,-13,-12,-11,-9,-8,-7,-6,-4,-3,-2,-1,1,2,3,4,6,7,8,9,11,12,13,14,16]}}
          }
        }
      ],
      "resolve": {"scale": {"x": "independent", "y": "independent"}, "axis": {"x": "independent", "y": "independent"}}
    },
    {
      "width": 242, "height": 219,
      "layer": [
        {
          "layer": [
            {
              "data": {"values": [{}]},
              "mark": {"type": "rule", "color": "#777", "strokeWidth": 1.5},
              "encoding": {"y": {"datum": 0, "type": "quantitative"}}
            },
            {
              "data": {"name": "fF"},
              "mark": {"type": "line", "strokeWidth": 2},
              "encoding": {
                "x": {"field": "h", "type": "quantitative", "scale": {"domain": [0, 30], "nice": false, "zero": false},
                  "axis": {"title": "altitude [km]", "orient": "bottom", "values": [0,5,10,15,20,25,30], "format": "d", "tickCount": 100, "tickSize": 5, "titlePadding": 8}},
                "y": {"field": "v", "type": "quantitative", "scale": {"domain": [-0.00003, 0.000035], "nice": false, "zero": false},
                  "axis": {"title": "dens. day - dens. av Jan. [g/cm³]", "orient": "left", "values": [-0.00003,-0.00002,-0.00001,0,0.00001,0.00002,0.00003], "tickCount": 100, "labelExpr": "datum.value === 0 ? '0' : (datum.value < 0 ? '-' : '') + round(abs(datum.value)*100000) + 'x10⁻⁵'", "tickSize": 5, "titlePadding": 8}},
                "color": {"field": "s", "type": "nominal", "scale": {"domain": ["warm", "cold"], "range": ["#f0202a", "#2c2c92"]},
                  "legend": {"title": null, "orient": "none", "legendX": 109, "legendY": -19.5, "symbolType": "M-3.5,0L3.5,0", "symbolSize": 144, "symbolStrokeWidth": 2, "labelOffset": 19, "rowPadding": 4.5, "labelFontSize": 14,
                    "labelExpr": "datum.value === 'warm' ? 'av. \"warm\" day' : 'av. \"cold\" day'"}},
                "strokeDash": {"field": "s", "type": "nominal", "scale": {"domain": ["warm", "cold"], "range": [[8, 3, 2, 3, 2, 3], [6, 4]]},
                  "legend": {"title": null, "orient": "none", "legendX": 109, "legendY": -19.5, "symbolType": "M-3.5,0L3.5,0", "symbolSize": 144, "symbolStrokeWidth": 2, "labelOffset": 19, "rowPadding": 4.5, "labelFontSize": 14,
                    "labelExpr": "datum.value === 'warm' ? 'av. \"warm\" day' : 'av. \"cold\" day'"}}
              }
            },
            {
              "data": {"values": [{}]},
              "mark": {"type": "text", "text": "(f)", "fontWeight": "bold", "fontSize": 18, "baseline": "alphabetic", "color": "#222"},
              "encoding": {"x": {"datum": 5.66, "type": "quantitative"}, "y": {"datum": 0.0000328, "type": "quantitative"}}
            }
          ]
        },
        {
          "data": {"values": [{}]},
          "mark": {"type": "point", "opacity": 0},
          "encoding": {
            "x": {"datum": 0, "type": "quantitative", "scale": {"domain": [0, 30], "nice": false, "zero": false},
              "axis": {"orient": "bottom", "title": null, "labels": false, "domain": false, "tickCount": 100, "tickSize": 3, "values": [1,2,3,4,6,7,8,9,11,12,13,14,16,17,18,19,21,22,23,24,26,27,28,29]}},
            "y": {"datum": 0, "type": "quantitative", "scale": {"domain": [-0.00003, 0.000035], "nice": false, "zero": false},
              "axis": {"orient": "left", "title": null, "labels": false, "domain": false, "tickCount": 100, "tickSize": 3, "values": [-0.000025,-0.000015,-0.000005,0.000005,0.000015,0.000025,0.000035]}}
          }
        }
      ],
      "resolve": {"scale": {"x": "independent", "y": "independent"}, "axis": {"x": "independent", "y": "independent"}}
    }
  ],
  "columns": 2,
  "spacing": {"row": 96, "column": 102},
  "bounds": "flush",
  "resolve": {"scale": {"x": "independent", "y": "independent", "color": "independent", "strokeDash": "independent"}, "legend": {"color": "independent", "strokeDash": "independent"}},
  "config": {
    "view": {"stroke": null},
    "font": "Liberation Sans",
    "axis": {"grid": false, "labelFont": "Liberation Sans", "titleFont": "Liberation Sans", "labelFontSize": 14, "titleFontSize": 21, "titleFontWeight": "normal", "labelColor": "#333", "titleColor": "#222", "domainColor": "#555", "tickColor": "#555", "labelPadding": 2, "labelFlush": false, "labelOverlap": false, "tickCount": 100},
    "legend": {"labelFont": "Liberation Sans", "titleFont": "Liberation Sans", "labelColor": "#222", "padding": 0},
    "text": {"font": "Liberation Sans"}
  }
}
